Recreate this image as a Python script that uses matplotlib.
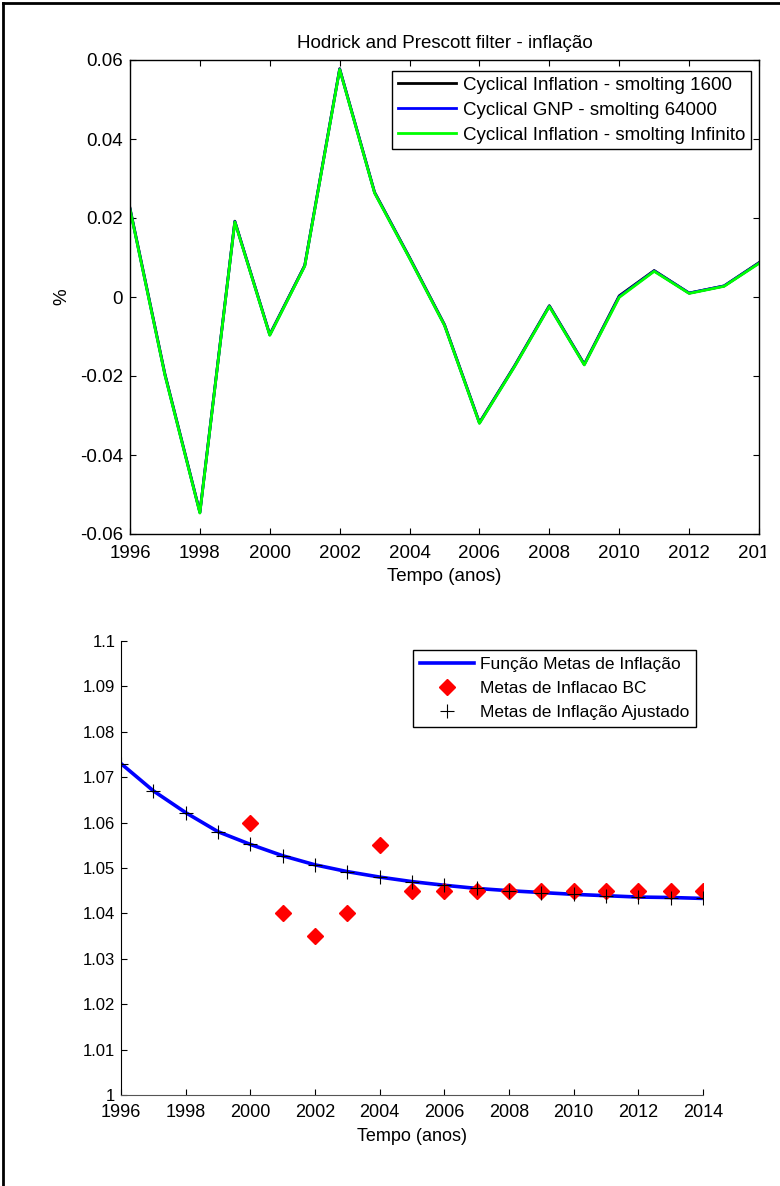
import matplotlib
matplotlib.use("Agg")
import matplotlib.pyplot as plt
from matplotlib.lines import Line2D
from matplotlib.transforms import Bbox, TransformedBbox

FS = 13.5
plt.rcParams['font.family'] = ['Liberation Sans', 'DejaVu Sans']
plt.rcParams['font.size'] = FS

# Ciclo da inflação (filtro HP) para três parâmetros de suavização
years = list(range(1996, 2015))
cyc_1600 = [0.0225, -0.0195, -0.0545, 0.0192, -0.0095, 0.0080, 0.0578, 0.0265, 0.0100,
            -0.0070, -0.0318, -0.0175, -0.0022, -0.0170, 0.0003, 0.0067, 0.0010, 0.0028, 0.0087]
cyc_64000 = [0.0223, -0.0197, -0.0546, 0.0191, -0.0096, 0.0079, 0.0577, 0.0264, 0.0099,
             -0.0071, -0.0319, -0.0176, -0.0023, -0.0171, 0.0001, 0.0066, 0.0010, 0.0028, 0.0086]
cyc_inf = [0.0222, -0.0198, -0.0547, 0.0190, -0.0097, 0.0078, 0.0576, 0.0263, 0.0098,
           -0.0072, -0.0320, -0.0177, -0.0024, -0.0172, -0.0001, 0.0065, 0.0009, 0.0027, 0.0085]

# Metas de inflação
meta_funcao = [1.0730, 1.0670, 1.0622, 1.0580, 1.0552, 1.0527, 1.0507, 1.0492, 1.0480, 1.0470,
               1.0462, 1.0455, 1.0450, 1.0446, 1.0442, 1.0439, 1.0436, 1.0435, 1.0433]
bc_years = list(range(2000, 2015))
meta_bc = [1.060, 1.040, 1.035, 1.040, 1.055, 1.045, 1.045, 1.045, 1.045, 1.045,
           1.045, 1.045, 1.045, 1.045, 1.045]

W, H = 780, 1186
fig = plt.figure(figsize=(W / 100, H / 100), dpi=100)


def box(x0, y0, x1, y1):
    return [x0 / W, 1 - y1 / H, (x1 - x0) / W, (y1 - y0) / H]


# ---------- painel superior ----------
ax1 = fig.add_axes(box(130, 60, 759, 534))
ax1.plot(years, cyc_1600, color='black', lw=2, label='Cyclical Inflation - smolting 1600')
ax1.plot(years, cyc_64000, color='#0000ff', lw=2, label='Cyclical GNP - smolting 64000')
ax1.plot(years, cyc_inf, color='#00ff00', lw=2, label='Cyclical Inflation - smolting Infinito')
ax1.set_xlim(1996, 2014)
ax1.set_ylim(-0.06, 0.06)
ax1.set_xticks(range(1996, 2015, 2))
ax1.set_yticks([-0.06, -0.04, -0.02, 0, 0.02, 0.04, 0.06])
ax1.set_yticklabels(['-0.06', '-0.04', '-0.02', '0', '0.02', '0.04', '0.06'])
ax1.tick_params(direction='in', length=4, top=True, right=True, labelsize=FS)
ax1.tick_params(axis='x', pad=8)
ax1.tick_params(axis='y', pad=5)
ax1.set_title('Hodrick and Prescott filter - inflação', fontsize=FS, pad=9)
ax1.set_xlabel('Tempo (anos)', fontsize=FS, labelpad=4)
ax1.set_ylabel('%', fontsize=FS, labelpad=7)
for s in ax1.spines.values():
    s.set_linewidth(1)
leg1 = ax1.legend(loc='upper right', bbox_to_anchor=(751 / W, 1 - 71 / H),
                  bbox_transform=fig.transFigure, fancybox=False, framealpha=1,
                  edgecolor='black', borderpad=0.3, labelspacing=0.42,
                  handlelength=3.1, handletextpad=0.37, borderaxespad=0, fontsize=FS)
leg1.get_frame().set_linewidth(1)

# o rótulo do último ano fica cortado na margem direita
last_lbl = ax1.xaxis.get_major_ticks()[-1].label1
last_lbl.set_clip_on(True)
last_lbl.set_clip_box(TransformedBbox(Bbox.from_extents(0, 0, 766 / W, 1), fig.transFigure))

# ---------- painel inferior ----------
FS2 = 12.5
ax2 = fig.add_axes(box(121, 641, 703, 1095))
ax2.plot(years, meta_funcao, color='#0000ff', lw=2.6, label='Função Metas de Inflação')
ax2.plot(bc_years, meta_bc, linestyle='none', marker='D', ms=8, color='#ff0000',
         label='Metas de Inflacao BC')
ax2.plot(years, meta_funcao, linestyle='none', marker='+', ms=10, mew=0.8, color='black',
         label='Metas de Inflação Ajustado')
ax2.set_xlim(1996, 2014)
ax2.set_ylim(1.0, 1.1)
ax2.set_xticks(range(1996, 2015, 2))
ax2.set_yticks([1 + 0.01 * i for i in range(11)])
ax2.set_yticklabels(['1', '1.01', '1.02', '1.03', '1.04', '1.05', '1.06', '1.07', '1.08',
                     '1.09', '1.1'])
ax2.tick_params(direction='in', length=4)
ax2.tick_params(axis='x', pad=6.5, labelsize=13)
ax2.tick_params(axis='y', pad=4, labelsize=12)
ax2.spines['top'].set_visible(False)
ax2.spines['right'].set_visible(False)
ax2.spines['bottom'].set_color('#555555')
ax2.set_xlabel('Tempo (anos)', fontsize=13, labelpad=5)
leg2 = ax2.legend(loc='upper right', bbox_to_anchor=(696 / W, 1 - 650 / H),
                  bbox_transform=fig.transFigure, fancybox=False, framealpha=1,
                  edgecolor='black', borderpad=0.4, labelspacing=0.5,
                  handlelength=3.1, handletextpad=0.35, borderaxespad=0, fontsize=FS2)
leg2.get_frame().set_linewidth(1)

# moldura da figura (esquerda e topo)
fig.add_artist(Line2D([3 / W, 3 / W], [0, 1 - 3 / H], color='black', lw=2,
                      transform=fig.transFigure))
fig.add_artist(Line2D([3 / W, 1], [1 - 3 / H, 1 - 3 / H], color='black', lw=2,
                      transform=fig.transFigure))

fig.savefig('out.png', dpi=100)
